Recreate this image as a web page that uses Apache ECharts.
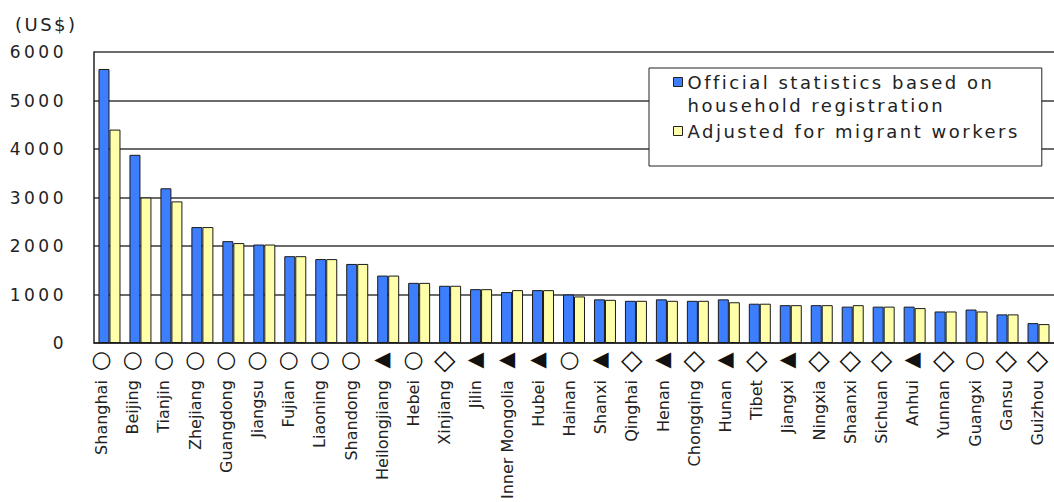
<!DOCTYPE html>
<html>
<head>
<meta charset="utf-8">
<script src="https://cdn.jsdelivr.net/npm/echarts@6/dist/echarts.min.js"></script>
<style>
  html, body { margin: 0; padding: 0; background: #fff; }
  #main { width: 1054px; height: 502px; }
  /* the original uses widely spaced lettering */
  #main text[style*="18px"] { letter-spacing: 2.5px; }
  #main text[style*="17px"] { letter-spacing: 3.5px; }
</style>
</head>
<body>
<div id="main"></div>
<script>
// provinces, ranked by official per-capita figure
const categories = ['Shanghai', 'Beijing', 'Tianjin', 'Zhejiang', 'Guangdong', 'Jiangsu', 'Fujian', 'Liaoning',
  'Shandong', 'Heilongjiang', 'Hebei', 'Xinjiang', 'Jilin', 'Inner Mongolia', 'Hubei', 'Hainan', 'Shanxi',
  'Qinghai', 'Henan', 'Chongqing', 'Hunan', 'Tibet', 'Jiangxi', 'Ningxia', 'Shaanxi', 'Sichuan', 'Anhui',
  'Yunnan', 'Guangxi', 'Gansu', 'Guizhou'];

const official = [5650, 3880, 3190, 2390, 2100, 2030, 1790, 1730, 1630, 1390, 1240, 1180, 1110, 1050, 1090,
  1000, 900, 870, 900, 870, 900, 810, 780, 780, 750, 750, 750, 650, 690, 590, 410];

const adjusted = [4400, 3000, 2920, 2390, 2060, 2030, 1790, 1730, 1630, 1390, 1240, 1180, 1110, 1090, 1090,
  960, 890, 870, 870, 870, 840, 810, 780, 780, 780, 750, 720, 650, 650, 590, 390];

// marker under each province
const marks = ['○', '○', '○', '○', '○', '○', '○', '○', '○', '◀', '○', '◇', '◀', '◀', '◀', '○', '◀', '◇',
  '◀', '◇', '◀', '◇', '◀', '◇', '◇', '◇', '◀', '◇', '○', '◇', '◇'];

const yTicks = [0, 1000, 2000, 3000, 4000, 5000, 6000];

const officialName = 'Official statistics based on household registration';
const adjustedName = 'Adjusted for migrant workers';

const chart = echarts.init(document.getElementById('main'), null, { renderer: 'svg' });

const font = 'DejaVu Sans';
const ink = '#222';
const markStyle = { c: 23, d: 28, t: 21 };

function markKey(m) {
  if (m === '○') return 'c';
  if (m === '◇') return 'd';
  return 't';
}

const rich = {};
Object.keys(markStyle).forEach(k => {
  rich[k] = { fontFamily: font, fontSize: markStyle[k], lineHeight: 20, color: '#111' };
});

chart.setOption({
  animation: false,
  backgroundColor: '#fff',
  title: {
    text: '(US$)',
    left: 10,
    top: 10,
    textStyle: { fontFamily: font, fontSize: 18, fontWeight: 'normal', color: ink }
  },
  legend: {
    orient: 'vertical',
    left: 649,
    top: 68,
    padding: [2, 92, 0, 24],
    itemGap: 2,
    itemWidth: 9,
    itemHeight: 46,
    icon: 'path://M0 0M0 46M0 7L9 7L9 16L0 16Z',
    backgroundColor: '#fff',
    borderColor: ink,
    borderWidth: 1,
    data: [officialName, adjustedName],
    formatter: function (name) {
      if (name === officialName) return 'Official statistics based on\nhousehold registration';
      return name + '\n ';
    },
    textStyle: { fontFamily: font, fontSize: 18, lineHeight: 23, color: ink },
    itemStyle: { borderColor: ink, borderWidth: 1 }
  },
  grid: [
    { left: 94, top: 52, bottom: 159, width: 963 },
    { left: 86, top: 52, bottom: 159, width: 967 },
    { left: 86, top: 52, bottom: 159, width: 967 }
  ],
  xAxis: [
    {
      gridIndex: 0,
      type: 'category',
      data: categories,
      axisLine: { lineStyle: { color: ink, width: 1.5 } },
      axisTick: { inside: true, interval: 0, length: 3, lineStyle: { color: '#000', width: 2 } },
      axisLabel: { show: false }
    },
    {
      gridIndex: 1,
      type: 'category',
      data: categories,
      axisLine: { show: false },
      axisTick: { show: false },
      axisLabel: {
        interval: 0,
        margin: 6,
        formatter: function (v, i) { return '{' + markKey(marks[i]) + '|' + marks[i] + '}'; },
        rich: rich
      }
    },
    {
      gridIndex: 2,
      type: 'category',
      data: categories,
      axisLine: { show: false },
      axisTick: { show: false },
      axisLabel: { interval: 0, rotate: 90, margin: 41, fontFamily: font, fontSize: 16, color: ink }
    }
  ],
  yAxis: [
    {
      gridIndex: 0,
      type: 'value',
      min: yTicks[0],
      max: yTicks[yTicks.length - 1],
      interval: 1000,
      axisLine: { show: true, lineStyle: { color: ink, width: 1.5 } },
      axisTick: { show: false },
      splitLine: { lineStyle: { color: '#3a3a3a', width: 1.5 } },
      axisLabel: {
        margin: 27,
        fontFamily: font,
        fontSize: 17,
        color: ink,
        formatter: function (v) { return String(v); }
      }
    },
    { gridIndex: 1, type: 'value', min: 0, max: 1, show: false },
    { gridIndex: 2, type: 'value', min: 0, max: 1, show: false }
  ],
  series: [
    {
      name: officialName,
      type: 'bar',
      data: official,
      barGap: '0%',
      barCategoryGap: '29%',
      itemStyle: { color: '#3d7eff', borderColor: '#1a1a1a', borderWidth: 1 }
    },
    {
      name: adjustedName,
      type: 'bar',
      data: adjusted,
      itemStyle: { color: '#ffffaa', borderColor: '#1a1a1a', borderWidth: 1 }
    }
  ]
});
</script>
</body>
</html>
